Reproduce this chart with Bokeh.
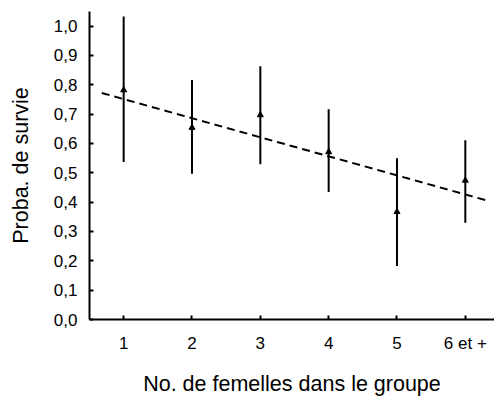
from bokeh.plotting import figure
from bokeh.models import FixedTicker, CustomJSTickFormatter, Range1d, ColumnDataSource
from bokeh.embed import file_html
from bokeh.resources import INLINE

# Data
groups = [1, 2, 3, 4, 5, 6]
group_labels = ["1", "2", "3", "4", "5", "6 et +"]
survival = [0.782, 0.654, 0.697, 0.571, 0.367, 0.474]
upper = [1.033, 0.816, 0.863, 0.717, 0.550, 0.611]
lower = [0.537, 0.497, 0.529, 0.435, 0.182, 0.330]
fit_x = [0.68, 6.31]
fit_y = [0.772, 0.406]
y_ticks = [0.0, 0.1, 0.2, 0.3, 0.4, 0.5, 0.6, 0.7, 0.8, 0.9, 1.0]

FONT = "Liberation Sans"

p = figure(width=494, height=398, output_backend="svg", toolbar_location=None,
           x_range=Range1d(0.5, 6.427), y_range=Range1d(0, 1.0498),
           min_border_left=89, min_border_right=0, min_border_top=11, min_border_bottom=77)
p.outline_line_color = None
p.grid.visible = False
p.background_fill_color = "white"
p.border_fill_color = "white"

src = ColumnDataSource(dict(x=groups, y=survival, up=upper, lo=lower))
p.segment(x0="x", y0="lo", x1="x", y1="up", source=src, line_color="black", line_width=2)
p.scatter(x="x", y="y", source=src, marker="triangle", size=6, color="black")
p.line(fit_x, fit_y, line_color="black", line_width=2, line_dash="8 5")

for ax in (p.xaxis[0], p.yaxis[0]):
    ax.axis_line_width = 2
    ax.axis_line_color = "black"
    ax.major_tick_line_width = 2
    ax.major_tick_line_color = "black"
    ax.major_tick_in = 4
    ax.major_tick_out = 0
    ax.minor_tick_line_color = None
    ax.major_label_text_font = FONT
    ax.major_label_text_font_size = "17px"
    ax.major_label_text_color = "black"
    ax.axis_label_text_font = FONT
    ax.axis_label_text_font_size = "21.5px"
    ax.axis_label_text_font_style = "normal"
    ax.axis_label_text_color = "black"

p.xaxis.ticker = FixedTicker(ticks=groups)
p.xaxis.major_label_overrides = {g: lab for g, lab in zip(groups, group_labels)}
p.xaxis.major_label_standoff = 14
p.xaxis.axis_label = "No. de femelles dans le groupe"
p.xaxis.axis_label_standoff = 16

p.yaxis.ticker = FixedTicker(ticks=y_ticks)
p.yaxis.formatter = CustomJSTickFormatter(code="return tick.toFixed(1).replace('.', ',');")
p.yaxis.major_label_standoff = 12
p.yaxis.axis_label = "Proba. de survie"
p.yaxis.axis_label_standoff = 18

open("out.html", "w").write(file_html(p, INLINE))
